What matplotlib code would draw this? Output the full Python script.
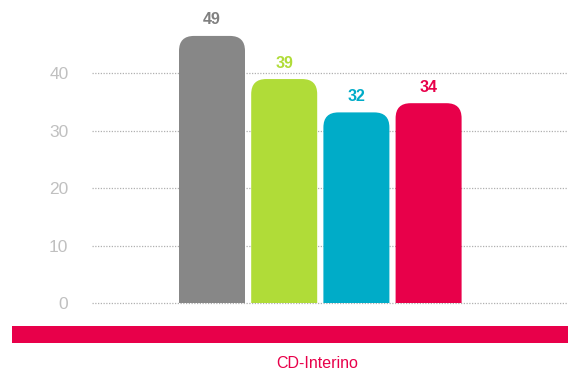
import numpy as np
import matplotlib
matplotlib.use("Agg")
import matplotlib.pyplot as plt
import matplotlib.patches as mpatches
import matplotlib.transforms as mtransforms

plt.rcParams["font.family"] = ["Liberation Sans", "DejaVu Sans"]

# data
group = "CD-Interino"
labels = ["49", "39", "32", "34"]            # printed value labels
heights = [46.5, 39.0, 33.2, 34.8]           # drawn bar heights
colors = ["#878787", "#b0dc38", "#00acc8", "#e8004a"]
label_colors = ["#808080", "#b0dc38", "#00acc8", "#e8004a"]
yticks = [0, 10, 20, 30, 40]

W, H = 568, 372
fig = plt.figure(figsize=(W / 100, H / 100), dpi=100)
# axes: left at px 92, bottom (value 0) at px 303 from top, top at figure top
ax = fig.add_axes([92 / W, (H - 303.3) / H, (W - 92) / W, 303.3 / H])

x = np.arange(len(heights))
step_px = 72.2
ax.set_xlim(-120 / step_px, -120 / step_px + (W - 92) / step_px)
ax.set_ylim(0, 303.3 / 5.75)

for v in yticks:
    ax.axhline(v, color="#b0b0b0", lw=0.9, ls=(0, (1, 1.2)), zorder=1,
               clip_on=False)

# rounded-top bars
bw = 66 / step_px
r = 15 / step_px
aspect = (1 / 5.75) / (1 / step_px)
for xi, h, c in zip(x, heights, colors):
    p = mpatches.FancyBboxPatch((xi - bw / 2, -r * aspect - 1), bw, h + r * aspect + 1,
                                boxstyle=f"round,pad=0,rounding_size={r}",
                                mutation_aspect=aspect, fc=c, ec="none", zorder=2)
    ax.add_patch(p)

for xi, h, t, c in zip(x, heights, labels, label_colors):
    ax.annotate(t, (xi, h), xytext=(0, 16), textcoords="offset pixels",
                ha="center", va="center", fontsize=11.5, fontweight="bold",
                color=c, zorder=3)

ax.set_yticks(yticks)
ax.set_yticklabels([str(v) for v in yticks])
ax.tick_params(axis="y", length=0, pad=17, labelsize=12.5, labelcolor="#c0c0c0")
ax.set_xticks([])
for s in ax.spines.values():
    s.set_visible(False)

# red category band and label
band = mpatches.Rectangle((12 / W, (H - 342.7) / H), (W - 12) / W, 17 / H,
                          transform=fig.transFigure, fc="#e8004a", ec="none")
fig.add_artist(band)
tr = mtransforms.blended_transform_factory(ax.transData, fig.transFigure)
ax.text(x.mean() - 0.05, 8 / H, group, transform=tr, ha="center", va="center",
        fontsize=11.5, color="#e8004a", clip_on=False)

fig.savefig("out.png", dpi=100)
